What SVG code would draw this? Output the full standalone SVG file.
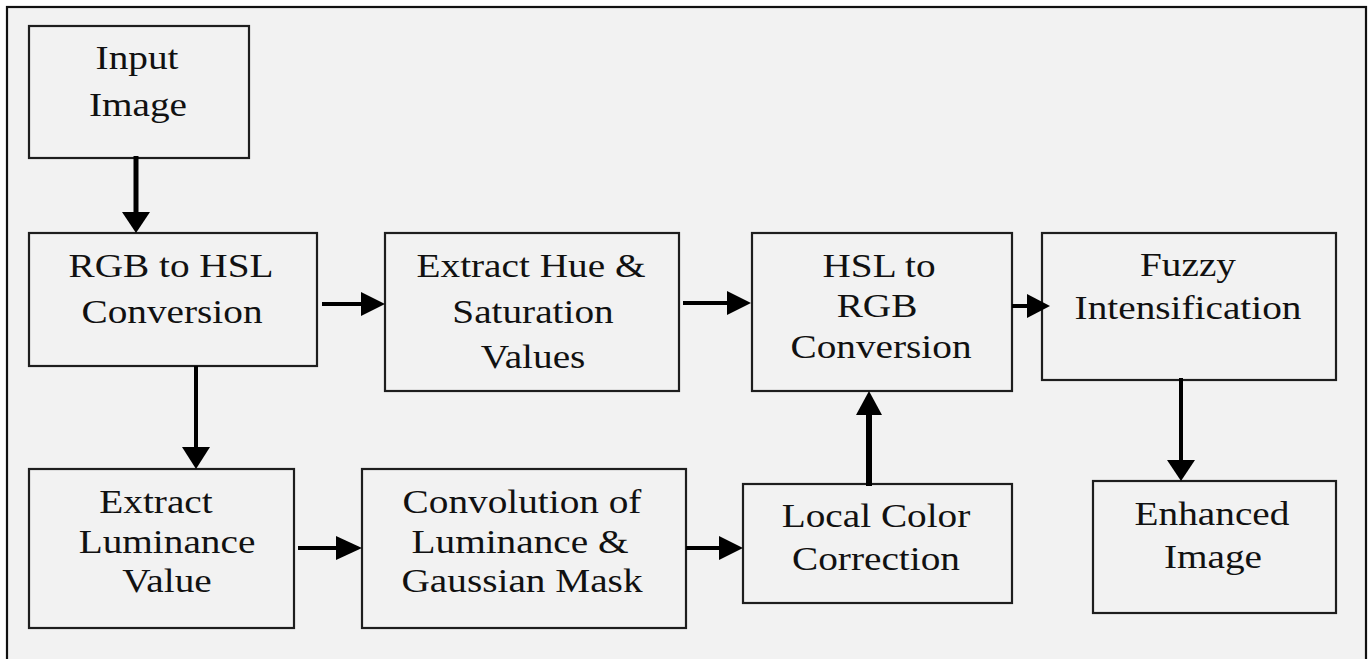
<svg xmlns="http://www.w3.org/2000/svg" width="1368" height="659" viewBox="0 0 1368 659">
<style>
.box{fill:none;stroke:#1e1e1e;stroke-width:2.2}
.t{font-family:"Liberation Serif","Times New Roman",serif;font-size:33px;fill:#111;text-anchor:middle}
.ln{stroke:#000;fill:none}
.hd{fill:#000}
</style>
<rect x="0" y="0" width="1368" height="659" fill="#fff"/>
<rect x="7" y="7" width="1359" height="670" fill="#f2f2f2" stroke="#111" stroke-width="2.2"/>

<g id="input-image">
<rect class="box" x="29" y="26" width="220" height="132"/>
<text class="t" transform="translate(137 69) scale(1.19 1)">Input</text>
<text class="t" transform="translate(138 116) scale(1.19 1)">Image</text>
</g>
<g id="rgb-to-hsl">
<rect class="box" x="29" y="233" width="288" height="133"/>
<text class="t" transform="translate(171 277) scale(1.19 1)">RGB to HSL</text>
<text class="t" transform="translate(172 323) scale(1.19 1)">Conversion</text>
</g>
<g id="extract-hue">
<rect class="box" x="385" y="233" width="294" height="158"/>
<text class="t" transform="translate(531 277) scale(1.19 1)">Extract Hue &amp;</text>
<text class="t" transform="translate(533 323) scale(1.19 1)">Saturation</text>
<text class="t" transform="translate(533 368) scale(1.19 1)">Values</text>
</g>
<g id="hsl-to-rgb">
<rect class="box" x="752" y="233" width="260" height="158"/>
<text class="t" transform="translate(879 277) scale(1.19 1)">HSL to</text>
<text class="t" transform="translate(877 317) scale(1.19 1)">RGB</text>
<text class="t" transform="translate(881 358) scale(1.19 1)">Conversion</text>
</g>
<g id="fuzzy">
<rect class="box" x="1042" y="233" width="294" height="147"/>
<text class="t" transform="translate(1188 276) scale(1.19 1)">Fuzzy</text>
<text class="t" transform="translate(1188 319) scale(1.19 1)">Intensification</text>
</g>
<g id="extract-luminance">
<rect class="box" x="29" y="469" width="265" height="159"/>
<text class="t" transform="translate(156 513) scale(1.19 1)">Extract</text>
<text class="t" transform="translate(167 553) scale(1.19 1)">Luminance</text>
<text class="t" transform="translate(167 592) scale(1.19 1)">Value</text>
</g>
<g id="convolution">
<rect class="box" x="362" y="469" width="324" height="159"/>
<text class="t" transform="translate(522 513) scale(1.19 1)">Convolution of</text>
<text class="t" transform="translate(520 553) scale(1.19 1)">Luminance &amp;</text>
<text class="t" transform="translate(522 592) scale(1.19 1)">Gaussian Mask</text>
</g>
<g id="local-color">
<rect class="box" x="743" y="484" width="269" height="119"/>
<text class="t" transform="translate(876 527) scale(1.19 1)">Local Color</text>
<text class="t" transform="translate(876 570) scale(1.19 1)">Correction</text>
</g>
<g id="enhanced-image">
<rect class="box" x="1093" y="481" width="243" height="132"/>
<text class="t" transform="translate(1212 525) scale(1.19 1)">Enhanced</text>
<text class="t" transform="translate(1213 568) scale(1.19 1)">Image</text>
</g>

<g id="connectors">
<line class="ln" x1="136" y1="156" x2="136" y2="215" stroke-width="5"/>
<polygon class="hd" points="122,212 150,212 136,233"/>
<line class="ln" x1="196" y1="366" x2="196" y2="450" stroke-width="4"/>
<polygon class="hd" points="182,447 210,447 196,469"/>
<line class="ln" x1="322" y1="304" x2="364" y2="304" stroke-width="4"/>
<polygon class="hd" points="361,292 361,316 385,304"/>
<line class="ln" x1="683" y1="303" x2="730" y2="303" stroke-width="4"/>
<polygon class="hd" points="727,291 727,315 751,303"/>
<line class="ln" x1="1012" y1="306" x2="1030" y2="306" stroke-width="4"/>
<polygon class="hd" points="1027,294 1027,318 1050,306"/>
<line class="ln" x1="298" y1="548" x2="340" y2="548" stroke-width="4"/>
<polygon class="hd" points="336,536 336,560 362,548"/>
<line class="ln" x1="686" y1="548" x2="722" y2="548" stroke-width="4"/>
<polygon class="hd" points="719,536 719,560 743,548"/>
<line class="ln" x1="869" y1="486" x2="869" y2="412" stroke-width="6"/>
<polygon class="hd" points="856,415 882,415 869,391"/>
<line class="ln" x1="1181" y1="378" x2="1181" y2="463" stroke-width="4"/>
<polygon class="hd" points="1167,460 1195,460 1181,481"/>
</g>
</svg>
